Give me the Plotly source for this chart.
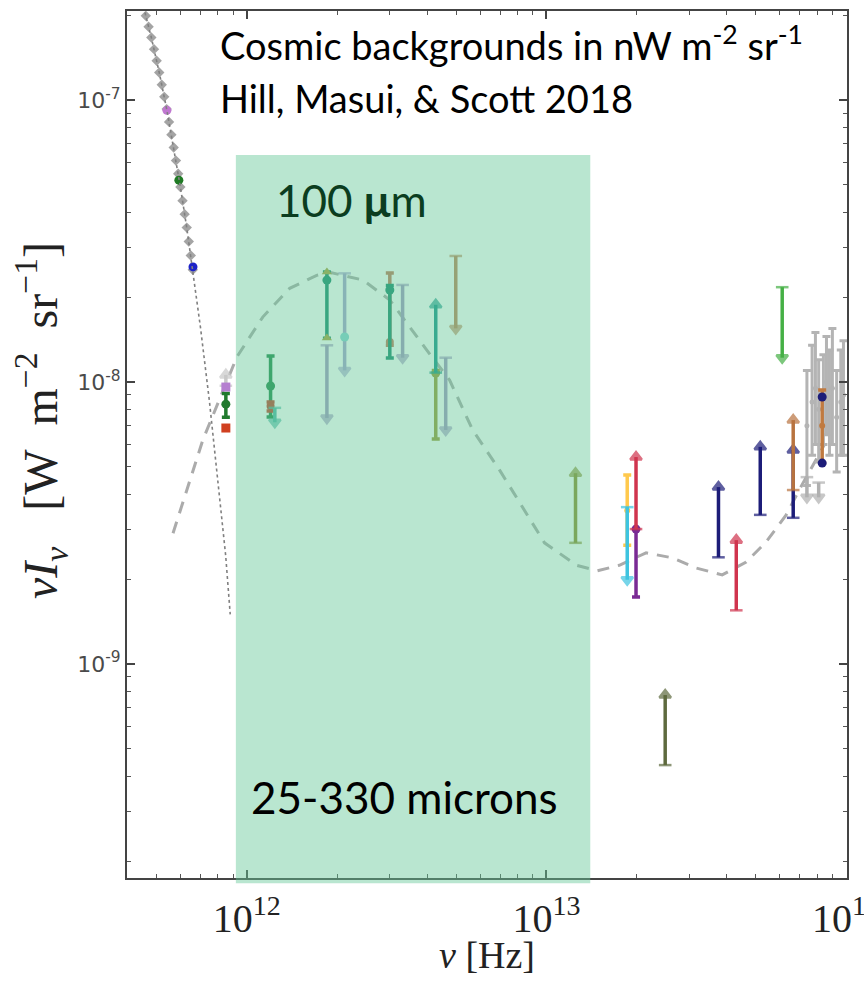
import plotly.graph_objects as go

# ---------------- data ----------------
# CMB spectrum points (grey diamonds)
cmb_nu = [4.5e11, 4.6e11, 4.7e11, 4.8e11, 4.9e11, 5.0e11, 5.1e11, 5.2e11, 5.3e11, 5.4e11, 5.5e11,
          5.6e11, 5.7e11, 5.8e11, 5.9e11, 6.0e11, 6.1e11, 6.2e11, 6.3e11, 6.4e11, 6.5e11, 6.6e11]
cmb_val = [2.18e-7, 1.99e-7, 1.82e-7, 1.667e-7, 1.516e-7, 1.379e-7, 1.253e-7, 1.134e-7, 1.027e-7, 9.29e-8, 8.37e-8,
           7.54e-8, 6.79e-8, 6.10e-8, 5.48e-8, 4.92e-8, 4.40e-8, 3.94e-8, 3.53e-8, 3.15e-8, 2.81e-8, 2.50e-8]
# CMB curve (dotted)
cmbline_nu = [4.3e11, 4.5e11, 4.8e11, 5.1e11, 5.4e11, 5.7e11, 6.0e11, 6.3e11, 6.6e11, 7.0e11, 7.5e11, 8.0e11, 8.5e11, 8.8e11]
cmbline_val = [2.59e-7, 2.18e-7, 1.667e-7, 1.253e-7, 9.29e-8, 6.79e-8, 4.92e-8, 3.53e-8, 2.50e-8, 1.565e-8, 8.55e-9, 4.59e-9, 2.42e-9, 1.50e-9]
# coloured CMB points
cmbpt_nu = [5.41e11, 5.93e11, 6.61e11]
cmbpt_val = [9.2e-8, 5.2e-8, 2.56e-8]
cmbpt_col = ['#c078d0', '#1f7a24', '#1c22c8']

# CIB model (grey dashed)
cib_nu = [5.67e11, 6.61e11, 7.13e11, 9.26e11, 1.13e12, 1.39e12, 1.71e12, 1.89e12, 2.44e12, 3.00e12, 3.49e12,
          3.98e12, 4.75e12, 5.67e12, 6.97e12, 9.85e12, 1.26e13, 1.48e13, 1.75e13, 2.15e13, 2.63e13, 3.16e13,
          3.86e13, 4.64e13, 5.41e13, 6.31e13, 6.97e13, 8.45e13]
cib_val = [2.91e-9, 4.88e-9, 6.23e-9, 1.227e-8, 1.70e-8, 2.15e-8, 2.39e-8, 2.45e-8, 2.30e-8, 1.955e-8, 1.57e-8,
           1.30e-8, 1.016e-8, 6.76e-9, 4.88e-9, 2.69e-9, 2.24e-9, 2.14e-9, 2.24e-9, 2.48e-9, 2.38e-9, 2.19e-9,
           2.07e-9, 2.30e-9, 2.71e-9, 3.38e-9, 4.14e-9, 5.98e-9]

# limits (arrows): frequency, start (cap), end (arrow tip), colour
lim_nu = [8.51e11, 1.24e12, 1.85e12, 2.12e12, 3.31e12, 4.27e12, 4.61e12, 4.98e12, 1.25e13, 1.86e13,
          1.99e13, 2.49e13, 3.75e13, 4.30e13, 5.17e13, 6.12e13, 6.66e13, 6.66e13, 7.4e13, 8.1e13]
lim_from = [9.7e-9, 8.1e-9, 1.35e-8, 2.43e-8, 2.21e-8, 1.08e-8, 1.22e-8, 2.80e-8, 2.69e-9, 3.6e-9,
            3.01e-9, 4.38e-10, 2.39e-9, 1.55e-9, 3.38e-9, 2.17e-8, 3.30e-9, 4.14e-9, 4.6e-9, 4.4e-9]
lim_to = [1.06e-8, 7.2e-9, 7.45e-9, 1.10e-8, 1.22e-8, 1.88e-8, 6.76e-9, 1.55e-8, 4.75e-9, 1.99e-9,
          5.42e-9, 7.76e-10, 4.24e-9, 2.75e-9, 5.89e-9, 1.22e-8, 5.74e-9, 7.33e-9, 3.9e-9, 3.9e-9]
lim_col = ['#c8c8c8', '#4fb8a8', '#a397c2', '#a7a3cf', '#a397c2', '#16948a', '#a397c2', '#c0845a', '#8c8c2e', '#3ec4e0',
           '#d0344e', '#5e6a3e', '#1c1c78', '#d0344e', '#1c1c78', '#45b045', '#1c1c78', '#b8733f', '#b0b0b0', '#b0b0b0']

# measurements with error bars
err_nu = [8.51e11, 1.20e12, 1.20e12, 1.85e12, 3.0e12, 3.0e12, 4.27e12, 1.86e13, 1.99e13, 8.32e13]
err_val = [8.35e-9, 9.68e-9, 8.22e-9, 2.30e-8, 1.387e-8, 2.12e-8, 1.076e-8, 3.5e-9, 3.01e-9, 7.0e-9]
err_lo = [7.5e-9, 7.52e-9, 7.9e-9, 1.43e-8, 1.35e-8, 1.216e-8, 6.28e-9, 2.64e-9, 1.73e-9, 5.16e-9]
err_hi = [9.1e-9, 1.236e-8, 8.5e-9, 2.455e-8, 2.434e-8, 2.2e-8, 1.1e-8, 4.68e-9, 3.01e-9, 9.37e-9]
err_col = ['#217a2e', '#1f8a4c', '#c0442c', '#178a6e', '#c0785a', '#178a6e', '#9a9a3a', '#ffc94d', '#7a2a94', '#c07a40']
err_size = [9, 9, 8, 9, 8, 9, 9, 0, 9, 0]

# extra plain markers
pt_nu = [8.51e11, 8.51e11, 2.12e12, 1.85e12, 1.85e12, 8.32e13, 8.32e13]
pt_val = [9.6e-9, 6.87e-9, 1.445e-8, 2.455e-8, 1.432e-8, 8.85e-9, 5.16e-9]
pt_col = ['#b57fd0', '#d04020', '#86d2d2', '#a8a040', '#a8a040', '#1c1c78', '#1c1c78']
pt_sym = ['square', 'square', 'circle', 'triangle-up', 'triangle-up', 'circle', 'circle']

# near-IR cluster (grey)
gray_nu = [7.4e13, 7.7e13, 7.9e13, 8.1e13, 8.4e13, 8.6e13, 8.8e13, 9.0e13, 9.3e13, 9.6e13, 9.8e13]
gray_val = [7.0e-9, 8.5e-9, 9.5e-9, 8.0e-9, 9.0e-9, 1.0e-8, 8.8e-9, 9.5e-9, 7.5e-9, 8.5e-9, 9.0e-9]
gray_lo = [4.3e-9, 5.5e-9, 6.0e-9, 5.2e-9, 6.0e-9, 6.5e-9, 5.5e-9, 6.0e-9, 4.8e-9, 5.5e-9, 5.5e-9]
gray_hi = [1.1e-8, 1.35e-8, 1.5e-8, 1.2e-8, 1.25e-8, 1.45e-8, 1.3e-8, 1.55e-8, 1.1e-8, 1.3e-8, 1.4e-8]

# shaded band (25-330 microns)
band_nu = [9.19e11, 1.40e13]

# ticks
x_tickvals = [1e12, 1e13, 1e14]
x_ticktext = ['10<sup>12</sup>', '10<sup>13</sup>', '10<sup>14</sup>']
y_tickvals = [1e-9, 1e-8, 1e-7]
y_ticktext = ['10<sup>-9</sup>', '10<sup>-8</sup>', '10<sup>-7</sup>']
x_minor = [m * 10.0 ** e for e in (11, 12, 13) for m in range(2, 10)]
y_minor = [m * 10.0 ** e for e in (-10, -9, -8, -7) for m in range(2, 10)]
x_range = [11.6, 14.003]
y_range = [-9.759, -6.684]

# ---------------- figure ----------------
fig = go.Figure()

fig.add_trace(go.Scatter(x=cib_nu, y=cib_val, mode='lines',
                         line=dict(color='#ababab', width=3, dash='12px,9px'), hoverinfo='skip'))
fig.add_trace(go.Scatter(x=cmb_nu, y=cmb_val, mode='markers',
                         marker=dict(symbol='diamond', size=8, color='#a4a4a4'), hoverinfo='skip'))
fig.add_trace(go.Scatter(x=cmbpt_nu, y=cmbpt_val, mode='markers',
                         marker=dict(symbol='circle', size=9, color=cmbpt_col), hoverinfo='skip'))

# grey cluster
for n, v, lo, hi in zip(gray_nu, gray_val, gray_lo, gray_hi):
    fig.add_trace(go.Scatter(x=[n], y=[v], mode='markers',
                             marker=dict(size=5, color='#b4b4b4'),
                             error_y=dict(type='data', symmetric=False, array=[hi - v], arrayminus=[v - lo],
                                          color='#b4b4b4', thickness=3, width=4), hoverinfo='skip'))

# error-bar measurements
for n, v, lo, hi, c, sz in zip(err_nu, err_val, err_lo, err_hi, err_col, err_size):
    fig.add_trace(go.Scatter(x=[n], y=[v], mode='markers',
                             marker=dict(symbol='circle', size=sz, color=c),
                             error_y=dict(type='data', symmetric=False, array=[hi - v], arrayminus=[v - lo],
                                          color=c, thickness=3.5, width=4), hoverinfo='skip'))

# limits
for n, a, b, c in zip(lim_nu, lim_from, lim_to, lim_col):
    tip = 'triangle-up' if b > a else 'triangle-down'
    fig.add_trace(go.Scatter(x=[n, n], y=[a, b], mode='lines+markers',
                             line=dict(color=c, width=3.5),
                             marker=dict(symbol=['line-ew', tip], size=[9, 10], color=c,
                                         line=dict(color=c, width=2.5)), hoverinfo='skip'))

fig.add_trace(go.Scatter(x=pt_nu, y=pt_val, mode='markers',
                         marker=dict(symbol=pt_sym, size=9, color=pt_col), hoverinfo='skip'))

# dotted CMB curve, placed on the overlaid axes that carry the minor ticks (same ranges)
fig.add_trace(go.Scatter(x=cmbline_nu, y=cmbline_val, xaxis='x2', yaxis='y2', mode='lines',
                         line=dict(color='#808080', width=1.6, dash='dot'), hoverinfo='skip'))

# green band
fig.add_shape(type='rect', xref='x', yref='paper', x0=band_nu[0], x1=band_nu[1], y0=-0.006, y1=0.834,
              fillcolor='rgba(99,199,151,0.45)', line=dict(width=0), layer='above')

txtfont = 'Lato'
fig.add_annotation(xref='paper', yref='paper', x=0.126, y=0.963, xanchor='left', yanchor='middle',
                   text='Cosmic backgrounds in nW m<sup>-2</sup> sr<sup>-1</sup>', showarrow=False,
                   font=dict(family=txtfont, size=38, color='#000000'))
fig.add_annotation(xref='paper', yref='paper', x=0.126, y=0.900, xanchor='left', yanchor='middle',
                   text='Hill, Masui, &amp; Scott 2018', showarrow=False,
                   font=dict(family=txtfont, size=38, color='#000000'))
fig.add_annotation(xref='paper', yref='paper', x=0.204, y=0.782, xanchor='left', yanchor='middle',
                   text='100 <b>μ</b>m', showarrow=False,
                   font=dict(family=txtfont, size=44, color='#0b3d1f'))
fig.add_annotation(xref='paper', yref='paper', x=0.17, y=0.0934, xanchor='left', yanchor='middle',
                   text='25-330 microns', showarrow=False,
                   font=dict(family=txtfont, size=44, color='#000000'))
# x-axis title
fig.add_annotation(xref='paper', yref='paper', x=0.5, y=-0.089, xanchor='center', yanchor='middle',
                   text='<i>ν</i> [Hz]', showarrow=False,
                   font=dict(family='Liberation Serif', size=38, color='#222222'))

axis_common = dict(type='log', showgrid=False, zeroline=False, showline=True, linecolor='#444444', linewidth=2,
                   mirror='allticks', ticks='inside', ticklen=8, tickwidth=1.5, tickcolor='#444444',
                   automargin=False, ticklabeloverflow='allow')
minor_common = dict(type='log', showgrid=False, zeroline=False, showline=True, linecolor='#444444', linewidth=2,
                    mirror='allticks', ticks='inside', ticklen=4, tickwidth=1, tickcolor='#555555',
                    showticklabels=False, automargin=False)

ytitle = ('&nbsp;&nbsp;&nbsp;&nbsp;<i>νI</i><sub><i>ν</i></sub>&nbsp;&nbsp;&nbsp;[W&nbsp;&nbsp;m<sup>−2</sup>'
          '&nbsp;&nbsp;sr<sup>−1</sup>]')

fig.update_layout(
    width=864, height=986, autosize=False,
    margin=dict(l=127, r=17, t=11, b=108),
    paper_bgcolor='white', plot_bgcolor='white', showlegend=False,
    xaxis=dict(axis_common, range=x_range, tickvals=x_tickvals, ticktext=x_ticktext,
               tickfont=dict(family='Liberation Serif', size=40, color='#222222'), ticklabelstandoff=4),
    yaxis=dict(axis_common, range=y_range, tickvals=y_tickvals, ticktext=y_ticktext,
               tickfont=dict(family='DejaVu Sans', size=22, color='#4a4a4a'),
               title=dict(text=ytitle, font=dict(family='Liberation Serif', size=48, color='#222222'), standoff=4)),
    xaxis2=dict(minor_common, overlaying='x', anchor='y2', side='bottom', range=x_range, tickvals=x_minor),
    yaxis2=dict(minor_common, overlaying='y', anchor='x2', side='left', range=y_range, tickvals=y_minor),
)

fig.write_html('out.html', config={'displayModeBar': False},
               post_script="document.body.style.margin='0';document.body.style.padding='0';")
